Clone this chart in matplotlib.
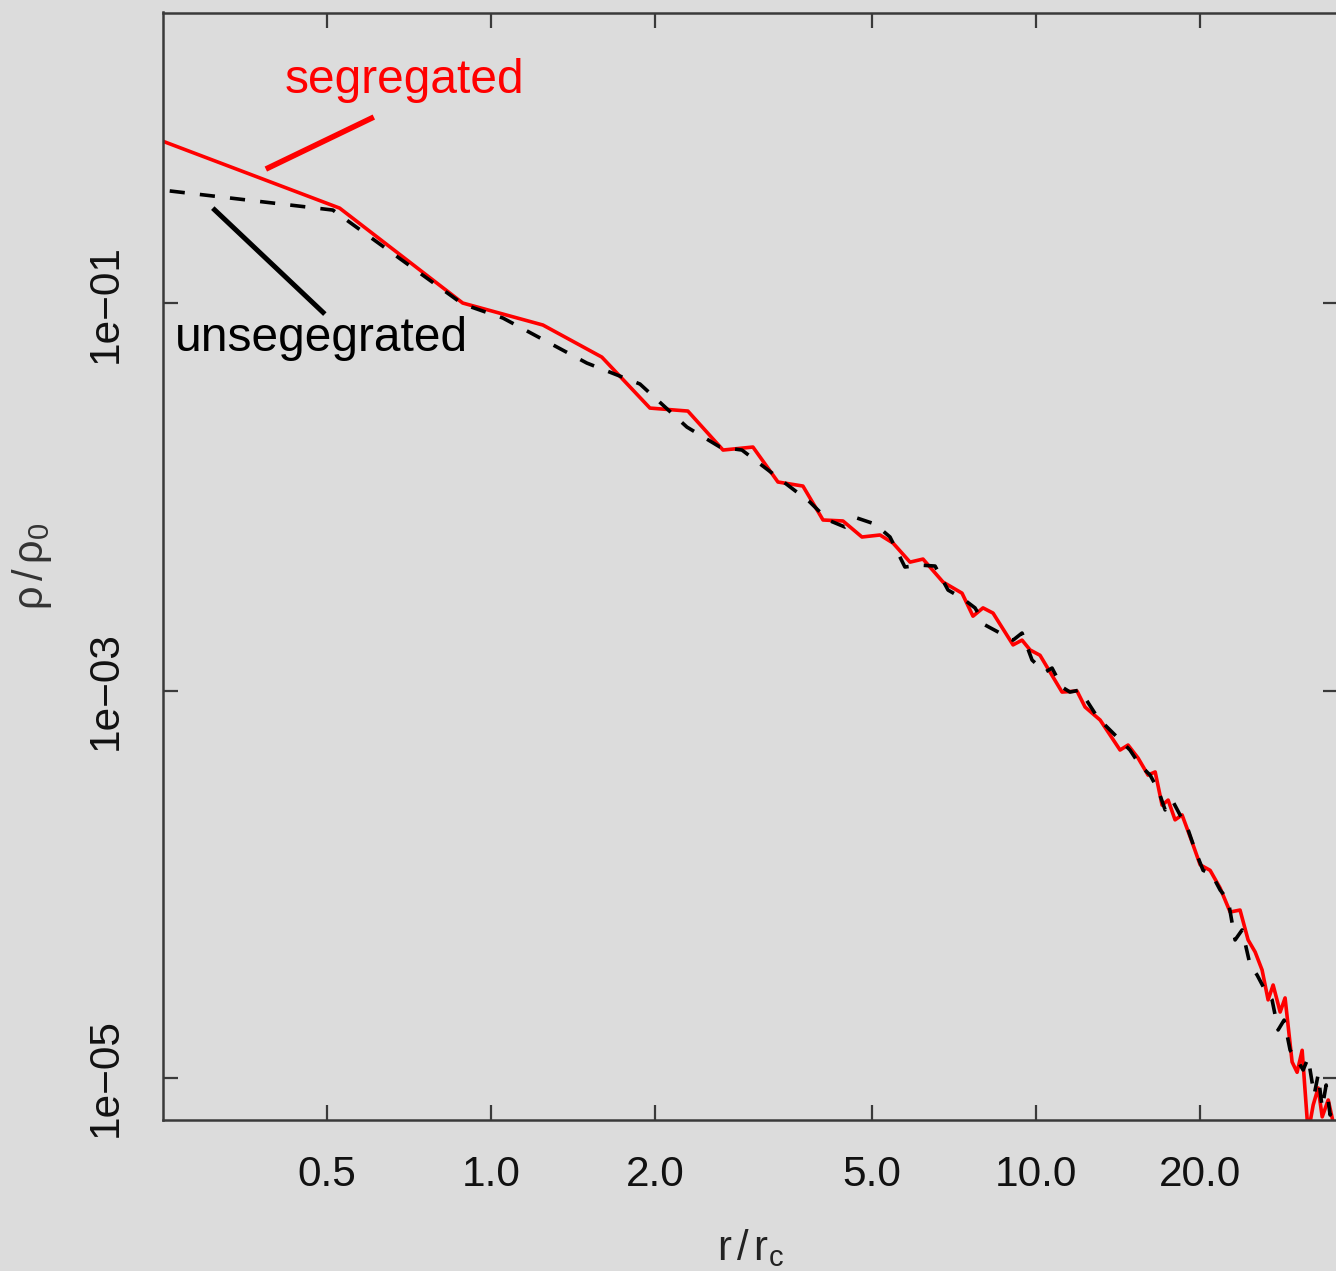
import matplotlib
matplotlib.use("Agg")
import matplotlib.pyplot as plt
from matplotlib.ticker import FixedLocator, FixedFormatter, NullLocator

plt.rcParams["font.family"] = ["Liberation Sans", "DejaVu Sans"]
plt.rcParams["mathtext.fontset"] = "custom"
plt.rcParams["mathtext.rm"] = "Liberation Sans"
plt.rcParams["mathtext.it"] = "Liberation Sans"
plt.rcParams["mathtext.bf"] = "Liberation Sans:bold"

# Density profile of the mass-segregated cluster
r_seg = [0.250, 0.528, 0.888, 1.246, 1.598, 1.958, 2.298, 2.666, 3.025, 3.362,
         3.736, 4.067, 4.425, 4.794, 5.174, 5.466, 5.873, 6.204, 6.751, 7.316,
         7.662, 7.994, 8.339, 9.075, 9.426, 9.750, 10.17, 11.16, 11.89, 12.30,
         13.11, 14.26, 14.75, 15.39, 16.05, 16.54, 17.03, 17.47, 17.99, 18.53,
         19.33, 20.00, 20.86, 21.76, 22.70, 23.67, 24.49, 25.23, 25.98, 26.65,
         27.22, 28.04, 28.63, 29.49, 30.12, 30.77, 31.56, 32.24, 32.92, 33.49,
         34.35, 35.08, 35.80]
rho_seg = [0.685, 0.309, 0.100, 0.0770, 0.0526, 0.0287, 0.0277, 0.01743, 0.01806, 0.01192,
           0.01136, 0.00759, 0.00750, 0.00620, 0.00635, 0.00577, 0.00460, 0.00477, 0.00363, 0.00318,
           0.00242, 0.00267, 0.00251, 0.00172, 0.00182, 0.00162, 0.00152, 9.82e-4, 9.94e-4, 8.22e-4,
           7.04e-4, 4.93e-4, 5.23e-4, 4.48e-4, 3.66e-4, 3.80e-4, 2.56e-4, 2.72e-4, 2.15e-4, 2.28e-4,
           1.65e-4, 1.26e-4, 1.18e-4, 9.56e-5, 7.19e-5, 7.36e-5, 5.16e-5, 4.47e-5, 3.61e-5, 2.53e-5,
           3.02e-5, 2.19e-5, 2.59e-5, 1.21e-5, 1.07e-5, 1.39e-5, 5.2e-6, 7.26e-6, 8.88e-6, 6.3e-6,
           7.70e-6, 5.9e-6, 5.5e-6]

# Density profile of the unsegregated cluster
r_uns = [0.2576, 0.513, 0.888, 1.052, 1.500, 1.877, 2.289, 2.632, 2.888, 3.848,
         4.153, 4.462, 4.695, 5.065, 5.397, 5.748, 6.126, 6.528, 6.896, 7.316,
         7.728, 8.061, 8.588, 9.075, 9.426, 9.833, 10.39, 10.70, 11.16, 11.54,
         12.04, 12.99, 13.67, 14.26, 14.87, 15.51, 16.19, 16.75, 17.25, 17.77,
         18.37, 19.01, 19.58, 20.25, 21.03, 21.76, 22.51, 23.18, 23.88, 24.70,
         25.44, 26.31, 27.10, 27.80, 28.51, 29.25, 30.12, 30.90, 31.56, 32.37,
         32.92, 33.49, 34.05, 34.63, 35.52]
rho_uns = [0.379, 0.302, 0.0988, 0.0837, 0.0490, 0.0382, 0.0229, 0.01806, 0.01743, 0.00939,
           0.00759, 0.00698, 0.00777, 0.00723, 0.00620, 0.00434, 0.00444, 0.00439, 0.00330, 0.00300,
           0.00267, 0.00218, 0.00198, 0.00182, 0.00198, 1.437e-3, 1.245e-3, 1.306e-3, 1.042e-3, 9.82e-4,
           1.006e-3, 7.21e-4, 6.25e-4, 5.55e-4, 4.93e-4, 4.12e-4, 3.66e-4, 3.07e-4, 2.42e-4, 2.72e-4,
           2.28e-4, 1.91e-4, 1.50e-4, 1.18e-4, 1.12e-4, 9.34e-5, 8.29e-5, 5.16e-5, 5.81e-5, 3.83e-5,
           3.40e-5, 2.84e-5, 2.53e-5, 1.77e-5, 1.99e-5, 1.39e-5, 1.24e-5, 1.10e-5, 1.27e-5, 8.17e-6,
           1.04e-5, 7.00e-6, 9.20e-6, 6.44e-6, 7.70e-6]

x_ticks = [0.5, 1.0, 2.0, 5.0, 10.0, 20.0]
x_tick_labels = ["0.5", "1.0", "2.0", "5.0", "10.0", "20.0"]
y_ticks = [1e-1, 1e-3, 1e-5]
y_tick_labels = ["1e\u221201", "1e\u221203", "1e\u221205"]

bg = "#dcdcdc"
axis_col = "#3a3a3a"

fig = plt.figure(figsize=(13.36, 12.71), dpi=100, facecolor=bg)
ax = fig.add_axes([163 / 1336, 1 - 1120 / 1271, 1175 / 1336, 1107.5 / 1271])
ax.set_facecolor(bg)

ax.plot(r_uns, rho_uns, color="black", lw=2.6, linestyle=(0, (4.2, 4.2)), zorder=3)
ax.plot(r_seg, rho_seg, color="#ff0000", lw=2.6, zorder=2)

ax.set_xscale("log")
ax.set_yscale("log")
ax.set_xlim(0.2504, 35.8)
ax.set_ylim(6.07e-6, 3.16)

ax.xaxis.set_major_locator(FixedLocator(x_ticks))
ax.xaxis.set_major_formatter(FixedFormatter(x_tick_labels))
ax.xaxis.set_minor_locator(NullLocator())
ax.yaxis.set_major_locator(FixedLocator(y_ticks))
ax.yaxis.set_major_formatter(FixedFormatter(y_tick_labels))
ax.yaxis.set_minor_locator(NullLocator())

ax.tick_params(which="major", direction="in", length=11, width=1.6, color=axis_col,
               top=True, right=True, labelsize=30.5, labelcolor="#111111")
ax.tick_params(axis="x", pad=25)
ax.tick_params(axis="y", pad=27)
for lab in ax.get_yticklabels():
    lab.set_rotation(90)
    lab.set_va("center")

for sp in ax.spines.values():
    sp.set_color(axis_col)
    sp.set_linewidth(1.8)

ax.set_xlabel(r"$\mathrm{r\,/\,r_c}$", fontsize=30, color="#222222")
ax.set_ylabel(r"$\mathrm{\rho\,/\,\rho_0}$", fontsize=30, color="#333333")
ax.xaxis.set_label_coords(0.5, -0.097)
ax.yaxis.set_label_coords(-0.093, 0.5)

# Curve labels with pointer lines
ax.plot([0.3866, 0.610], [0.4915, 0.912], color="#ff0000", lw=4.0, solid_capstyle="butt", zorder=4)
ax.text(0.4188, 1.416, "segregated", color="#ff0000", fontsize=34.5, ha="left", va="center")
ax.plot([0.309, 0.496], [0.309, 0.0877], color="black", lw=3.6, solid_capstyle="butt", zorder=4)
ax.text(0.263, 0.0660, "unsegegrated", color="black", fontsize=34.5, ha="left", va="center")

fig.savefig("out.png", dpi=100, facecolor=bg)
